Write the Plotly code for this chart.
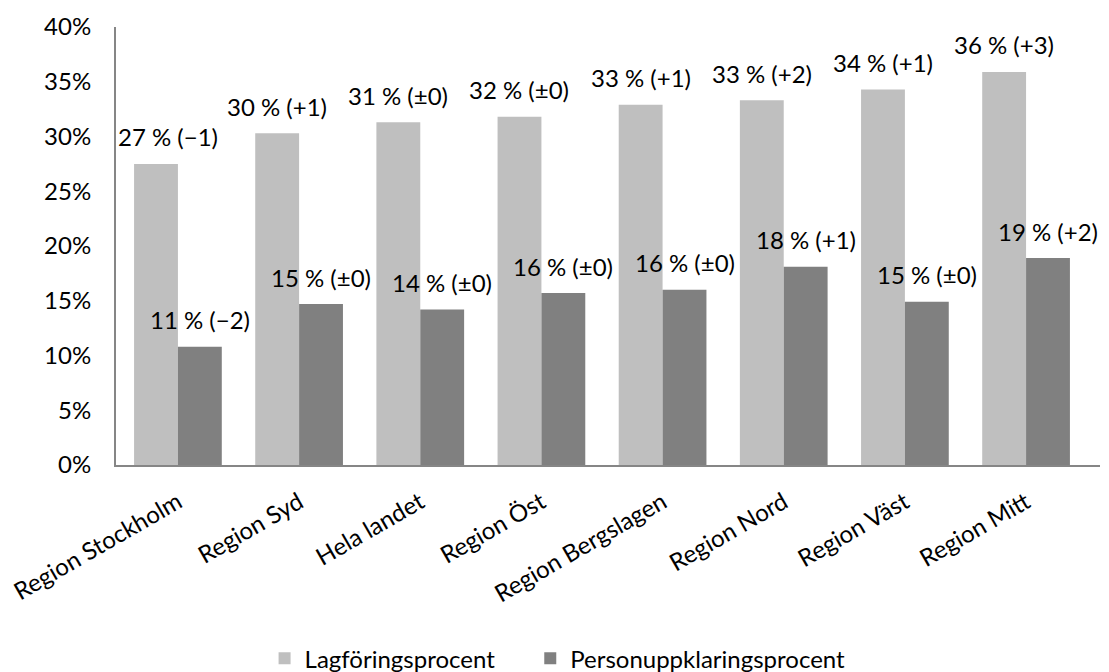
import plotly.graph_objects as go

# Regioner och andelar (%)
regioner = ["Region Stockholm", "Region Syd", "Hela landet", "Region Öst",
            "Region Bergslagen", "Region Nord", "Region Väst", "Region Mitt"]
lagforing = [27.5, 30.3, 31.3, 31.8, 32.9, 33.3, 34.3, 35.9]
personuppklaring = [10.8, 14.7, 14.2, 15.7, 16.0, 18.1, 14.9, 18.9]
lagforing_text = ["27 % (−1)", "30 % (+1)", "31 % (±0)", "32 % (±0)",
                  "33 % (+1)", "33 % (+2)", "34 % (+1)", "36 % (+3)"]
personuppklaring_text = ["11 % (−2)", "15 % (±0)", "14 % (±0)", "16 % (±0)",
                         "16 % (±0)", "18 % (+1)", "15 % (±0)", "19 % (+2)"]

font = "Lato"
fs = 24
bargap = 0.276
half = (1 - bargap) / 4  # halva stapelbredden i kategorienheter

fig = go.Figure()
fig.add_trace(go.Bar(x=regioner, y=lagforing, name="Lagföringsprocent",
                     marker=dict(color="#BFBFBF", line=dict(width=0)),
                     legend="legend"))
fig.add_trace(go.Bar(x=regioner, y=personuppklaring, name="Personuppklaringsprocent",
                     marker=dict(color="#808080", line=dict(width=0)),
                     legend="legend2"))

# Etiketter ovanför staplarna
for i in range(len(regioner)):
    fig.add_annotation(x=i - half, y=lagforing[i], text=lagforing_text[i],
                       xref="x", yref="y", showarrow=False, yanchor="middle",
                       yshift=27, xshift=12 if i == 0 else 0,
                       font=dict(family=font, size=fs, color="black"))
    fig.add_annotation(x=i + half, y=personuppklaring[i], text=personuppklaring_text[i],
                       xref="x", yref="y", showarrow=False, yanchor="middle",
                       yshift=27, font=dict(family=font, size=fs, color="black"))

# sidan har 8 px marginal i body -> figuren görs 8 px mindre
fig.update_layout(
    width=1101, height=664,
    margin=dict(l=108, r=9, t=19, b=207),
    paper_bgcolor="white", plot_bgcolor="white",
    barmode="group", bargap=bargap, bargroupgap=0,
    font=dict(family=font, size=fs, color="black"),
    showlegend=True,
    legend=dict(orientation="h", x=0.151, xanchor="left",
                yref="container", y=0.02, yanchor="middle",
                font=dict(family=font, size=fs)),
    legend2=dict(orientation="h", x=0.421, xanchor="left",
                 yref="container", y=0.02, yanchor="middle",
                 font=dict(family=font, size=fs)),
)
fig.update_xaxes(showline=True, linecolor="#868686", linewidth=2, showgrid=False,
                 tickangle=-30, ticks="", ticklabelstandoff=12, automargin=False,
                 tickfont=dict(family=font, size=fs))
fig.update_yaxes(range=[0, 40], dtick=5, ticksuffix="%", showline=True,
                 linecolor="#868686", linewidth=2, showgrid=False, zeroline=False,
                 ticks="", ticklabelstandoff=18, automargin=False,
                 tickfont=dict(family=font, size=fs))

fig.write_html("out.html")
